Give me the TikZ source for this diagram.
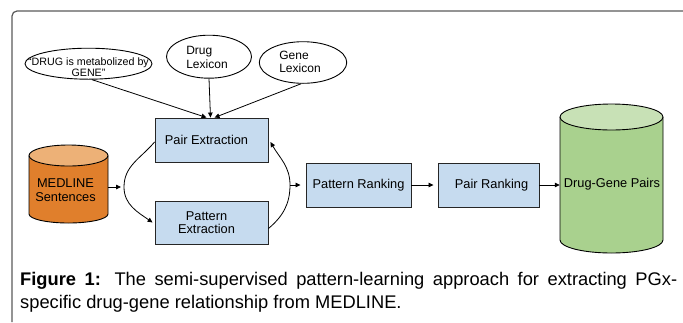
\documentclass[tikz,border=0pt]{standalone}
\usepackage{fontspec}
\setmainfont{Liberation Sans}
\usetikzlibrary{arrows.meta,calc,shapes.geometric}

\definecolor{boxblue}{HTML}{C6DBEF}
\definecolor{medbody}{HTML}{E07F2C}
\definecolor{medtop}{HTML}{EDB177}
\definecolor{dgbody}{HTML}{A9D18E}
\definecolor{dgtop}{HTML}{C8E1B6}
\definecolor{framegray}{HTML}{5A5A5A}

\begin{document}
\begin{tikzpicture}[x=1pt,y=1pt,
  proc/.style={draw=black!85, line width=0.9pt, fill=boxblue, inner sep=0pt,
               font=\fontsize{12.8}{13.4}\selectfont, align=center},
  oval/.style={draw=black, line width=0.9pt, ellipse, inner sep=0pt},
  ovaltext/.style={inner sep=0pt, font=\fontsize{12}{13.6}\selectfont, align=left},
  area/.style={inner sep=0pt},
  cyltext/.style={inner sep=0pt, font=\fontsize{12.8}{14}\selectfont, align=center},
  arr/.style={-{Triangle[length=5pt,width=4.5pt]}, line width=0.8pt},
  captext/.style={inner sep=0pt, font=\fontsize{18.3}{23}\selectfont}]

\useasboundingbox (0,0) rectangle (683,-322);

% frame: top and left rules with a rounded corner
\draw[framegray, line width=1.2pt, rounded corners=5pt]
  (683,-11) -- (12,-11) -- (12,-322);

% input ellipses
\node[oval, minimum width=127pt, minimum height=31pt] (e1) at (88.5,-63.7) {};
\node[inner sep=0pt, font=\fontsize{10.7}{11.4}\selectfont, align=center] (e1t) at (88.5,-67)
  {“DRUG is metabolized by\\GENE”};
\node[oval, minimum width=85pt, minimum height=43pt] (e2) at (209,-56.7) {};
\node[ovaltext] (e2t) at (207,-57.5) {Drug\\Lexicon};
\node[oval, minimum width=87.5pt, minimum height=41.6pt] (e3) at (303,-62.5) {};
\node[ovaltext] (e3t) at (300,-62) {Gene\\Lexicon};

% process boxes
\node[proc, minimum width=113pt, minimum height=44pt] (pe) at (211.5,-140)
  {\hspace*{-10pt}Pair Extraction};
\node[proc, minimum width=113pt, minimum height=43pt] (pxe) at (211.5,-222.5)
  {\hspace*{-10pt}Pattern\\\hspace*{-10pt}Extraction};
\node[proc, minimum width=105pt, minimum height=44pt] (pr) at (358.5,-185)
  {Pattern Ranking};
\node[proc, minimum width=101pt, minimum height=44pt] (prk) at (488.5,-185)
  {\hspace*{6pt}Pair Ranking};

% MEDLINE cylinder
\fill[medbody] (29,-155.5) -- (29,-214) arc[start angle=180, end angle=360, x radius=39.5pt, y radius=9pt]
  -- (108,-155.5) -- cycle;
\draw[black, line width=0.9pt] (29,-155.5) -- (29,-214)
  arc[start angle=180, end angle=360, x radius=39.5pt, y radius=9pt] -- (108,-155.5);
\filldraw[fill=medtop, draw=black, line width=0.9pt] (68.5,-155.5) ellipse[x radius=39.5pt, y radius=10.5pt];
\node[area, minimum width=79pt, minimum height=78pt] (med) at (68.5,-187) {};
\node[cyltext] (medt) at (65.5,-190) {MEDLINE\\Sentences};

% Drug-Gene Pairs cylinder
\fill[dgbody] (560,-117) -- (560,-240) arc[start angle=180, end angle=360, x radius=51.5pt, y radius=13pt]
  -- (663,-117) -- cycle;
\draw[black, line width=0.9pt] (560,-117) -- (560,-240)
  arc[start angle=180, end angle=360, x radius=51.5pt, y radius=13pt] -- (663,-117);
\filldraw[fill=dgtop, draw=black, line width=0.9pt] (611.5,-117) ellipse[x radius=51.5pt, y radius=13pt];
\node[area, minimum width=103pt, minimum height=130pt] (dg) at (611.5,-184) {};
\node[cyltext] (dgt) at (612,-184) {Drug-Gene Pairs};

% turning points of the extraction loop
\coordinate (lc) at (124,-187);
\coordinate (rc) at (290,-185);

% connectors
\draw[arr] (e1.-78) -- ([xshift=-5pt]pe.north);
\draw[arr] (e2.south) -- ([xshift=-1pt]pe.north);
\draw[arr] (e3.-95) -- ([xshift=3pt]pe.north);

\draw[arr, shorten >=3pt] (med.east) -- (med.east -| lc);
\draw[arr] ([yshift=-2pt]pe.west) to[out=-130, in=90] (lc)
  to[out=-90, in=145] ([xshift=-2pt]pxe.west);
\draw[arr] ([yshift=-6pt]pxe.east) to[out=40, in=-90] (rc)
  to[out=90, in=-60] ([xshift=2pt,yshift=-2pt]pe.east);
\draw[arr, shorten >=5pt] (rc) -- (pr.west);
\draw[arr, shorten >=4pt] (pr.east) -- (prk.west);
\draw[arr] (prk.east) -- (prk.east -| dg.west);

% caption
\node[captext, anchor=base west] (cap1) at (20,-285)
  {\makebox[657pt][s]{\textbf{Figure 1:} The semi-supervised pattern-learning approach for extracting PGx-}};
\node[captext, anchor=base west] (cap2) at (20,-308)
  {specific drug-gene relationship from MEDLINE.};
\end{tikzpicture}
\end{document}
